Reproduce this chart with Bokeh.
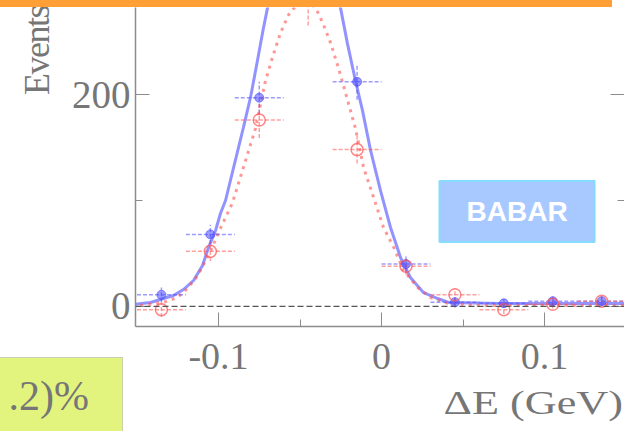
from bokeh.plotting import figure
from bokeh.models import Range1d, LinearAxis, FixedTicker, Span, Label, Div
from bokeh.layouts import column
from bokeh.embed import file_html
from bokeh.resources import INLINE

# ---------------- data ----------------
bin_centers = [-0.135, -0.105, -0.075, -0.045, -0.015, 0.015, 0.045, 0.075, 0.105, 0.135]
bin_half_width = 0.015
blue_counts = [11, 68, 197, 330, 212, 40, 4, 3, 5, 5]
blue_err = [7, 9, 15, 19, 17, 8, 5, 4, 5, 5]
red_counts = [-3, 52, 176, 290, 148, 38, 11, -3, 2, 5]
red_err = [7, 9, 17, 25, 13, 8, 6, 4, 4, 5]

blue_curve_x = [-0.152, -0.1417, -0.1337, -0.1276, -0.1215, -0.1153, -0.1098, -0.1061, -0.1018,
                -0.0988, -0.0957, -0.0847, -0.0804, -0.0761, -0.0724, -0.0699, -0.0589, -0.0472,
                -0.0344, -0.0252, -0.0209, -0.016, -0.0117, -0.0067, -0.0006, 0.0055, 0.0117,
                0.0178, 0.0258, 0.0344, 0.0411, 0.073, 0.149]
blue_curve_y = [1.9, 3.8, 7.5, 10.4, 16, 24.5, 38.7, 55.7, 71.7,
                87.7, 100, 169, 197, 232, 263, 282, 351, 379,
                344, 282, 248, 213, 185, 147, 109, 74.5, 46,
                27, 13, 7.5, 3.8, 2.8, 2.8]

red_curve_x = [-0.1479, -0.1337, -0.1252, -0.119, -0.1129, -0.108, -0.1037, -0.1, -0.0957,
               -0.0914, -0.0773, -0.0712, -0.0669, -0.062, -0.0571, -0.054, -0.0472, -0.0405,
               -0.0362, -0.0313, -0.0264, -0.0209, -0.016, -0.011, -0.0049, 0.0012, 0.0074,
               0.0135, 0.0221, 0.03, 0.0405, 0.06, 0.149]
red_curve_y = [0.9, 3.8, 8.5, 17, 29, 43, 56, 70, 84,
               98, 168, 213, 235, 258, 275, 281, 289, 282,
               268, 249, 225, 195, 168, 131, 103, 74.5, 56,
               34, 18, 8.5, 3, 1, 1]

x_major = [-0.1, 0, 0.1]
x_labels = ["-0.1", "0", "0.1"]
x_minor = [-0.05, 0.05]
y_major = [0, 200]
y_labels = ["0", "200"]
y_minor = [100]

x_title = "ΔE (GeV)"
y_title = "Events"
logo_text = "BABAR"
box_text = ".2)%"

# ---------------- styles ----------------
GREY = "#767676"
SERIF = "Liberation Serif"
BLUE = "#4b4bff"
RED = "#ff5252"

p = figure(width=624, height=424, output_backend="svg", toolbar_location=None,
           x_range=Range1d(-0.1509, 0.149), y_range=Range1d(-18.9, 282.1),
           x_axis_location=None, y_axis_location=None,
           min_border_left=135, min_border_bottom=105, min_border_top=0, min_border_right=0)
p.outline_line_color = None
p.grid.visible = False
p.background_fill_color = "white"
p.border_fill_color = "white"

def style_axis(ax, size="38px"):
    ax.axis_line_color = "#8c8c8c"
    ax.axis_line_width = 1.5
    ax.major_tick_line_color = "#8c8c8c"
    ax.minor_tick_line_color = "#8c8c8c"
    ax.major_tick_in = 14
    ax.major_tick_out = 0
    ax.minor_tick_in = 7
    ax.minor_tick_out = 0
    ax.major_label_text_font = SERIF
    ax.major_label_text_font_size = size
    ax.major_label_text_color = GREY

xaxis = LinearAxis(ticker=FixedTicker(ticks=x_major, minor_ticks=x_minor),
                   major_label_overrides=dict(zip(x_major, x_labels)))
style_axis(xaxis)
xaxis.major_label_standoff = 17
p.add_layout(xaxis, "below")

yaxis = LinearAxis(ticker=FixedTicker(ticks=y_major, minor_ticks=y_minor),
                   major_label_overrides=dict(zip(y_major, y_labels)))
style_axis(yaxis, size="39px")
yaxis.major_label_standoff = 5
p.add_layout(yaxis, "left")

raxis = LinearAxis(ticker=FixedTicker(ticks=y_major, minor_ticks=y_minor),
                   major_label_overrides={t: "" for t in y_major})
style_axis(raxis)
raxis.axis_line_alpha = 0
raxis.major_label_standoff = 0
p.add_layout(raxis, "right")

# zero line
p.add_layout(Span(location=0, dimension="width", line_color="#555555",
                  line_dash="6 3", line_width=1.2))

# fitted curves
p.line(blue_curve_x, blue_curve_y, line_color=BLUE, line_width=3, line_alpha=0.6)
p.line(red_curve_x, red_curve_y, line_color=RED, line_width=3, line_alpha=0.6, line_dash="3 5")

# error bars
def error_bars(counts, errs, color, dash):
    p.segment(x0=[c - bin_half_width for c in bin_centers], y0=counts,
              x1=[c + bin_half_width for c in bin_centers], y1=counts,
              line_color=color, line_width=1.5, line_alpha=0.55, line_dash=dash)
    p.segment(x0=bin_centers, y0=[v - e for v, e in zip(counts, errs)],
              x1=bin_centers, y1=[v + e for v, e in zip(counts, errs)],
              line_color=color, line_width=1.5, line_alpha=0.55, line_dash=dash)

error_bars(blue_counts, blue_err, BLUE, "4 2")
error_bars(red_counts, red_err, RED, "4 2")

p.scatter(bin_centers, blue_counts, size=9, fill_color=BLUE, fill_alpha=0.55,
          line_color=BLUE, line_alpha=0.6)
p.scatter(bin_centers, red_counts, size=12, fill_color=None, line_color=RED,
          line_width=1.5, line_alpha=0.7)

# BABAR logo box
p.add_layout(Label(x=0.0831, y=89.6, text=logo_text, text_align="center",
                   text_baseline="middle", text_font="Liberation Sans",
                   text_font_style="bold", text_font_size="28px", text_color="white",
                   background_fill_color="#a8c9ff", border_line_color="#86dcff",
                   border_line_width=2,
                   padding=dict(left=27, right=27, top=15, bottom=15)))

# orange strip along the top (drawn above everything)
bar = Div(text="", width=612, height=7, margin=0,
          styles={"background-color": "#ff9f36", "position": "relative", "z-index": "5"})

# axis titles, placed as in the (cropped) reference
x_title_div = Div(text=x_title, width=243, height=36, margin=0,
                  styles={"position": "absolute", "left": "380px", "top": "386px",
                          "transform": "scaleX(1.3)", "transform-origin": "100% 50%",
                          "font-family": SERIF, "font-size": "34px", "line-height": "34px",
                          "color": GREY, "text-align": "right", "white-space": "nowrap"})
y_title_div = Div(text=y_title, width=130, height=36, margin=0,
                  styles={"position": "absolute", "left": "19px", "top": "95px",
                          "transform": "rotate(-90deg)", "transform-origin": "0px 0px",
                          "font-family": SERIF, "font-size": "36px", "line-height": "36px",
                          "letter-spacing": "-1.5px",
                          "color": GREY, "text-align": "left", "white-space": "nowrap"})

# partially visible result box (bottom left)
result_box = Div(text=box_text, width=123, height=74, margin=0,
                 styles={"position": "absolute", "left": "0px", "top": "357px",
                         "background-color": "#e3f47e",
                         "border-right": "1px solid #c8d0b0",
                         "border-top": "1px solid #c8d0b0",
                         "box-sizing": "border-box",
                         "font-family": SERIF, "font-size": "42px",
                         "line-height": "42px", "color": GREY,
                         "text-align": "right", "padding-right": "33px",
                         "padding-top": "17px", "white-space": "nowrap",
                         "overflow": "hidden"})

layout = column(bar, p, x_title_div, y_title_div, result_box, spacing=0)
open("out.html", "w").write(file_html(layout, INLINE))
